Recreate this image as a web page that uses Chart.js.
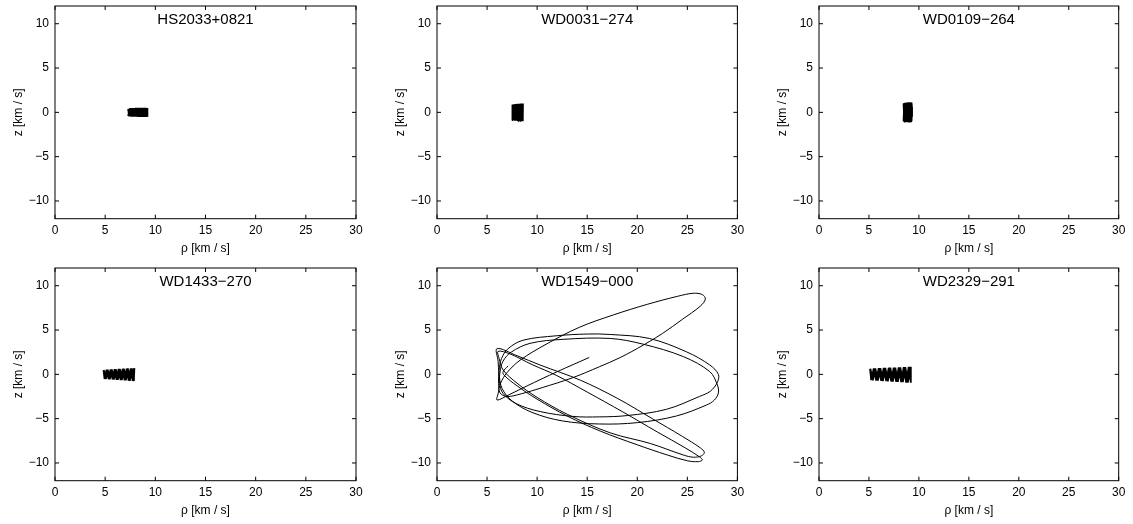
<!DOCTYPE html>
<html>
<head>
<meta charset="utf-8">
<script src="https://cdn.jsdelivr.net/npm/chart.js@4.4.0/dist/chart.umd.min.js"></script>
<style>
  body { margin: 0; background: #fff; }
  #page { position: relative; width: 1133px; height: 524px; overflow: hidden; background: #fff; }
  canvas { position: absolute; }
</style>
</head>
<body>
<div id="page"></div>
<script>
// tick values
const rhoTicks = [0, 5, 10, 15, 20, 25, 30];
const zTicks = [-10, -5, 0, 5, 10];

// panel titles
const stars = ['HS2033+0821', 'WD0031\u2212274', 'WD0109\u2212264', 'WD1433\u2212270', 'WD1549\u2212000', 'WD2329\u2212291'];

// orbits in the meridional plane, [rho, z] in km/s
const hs2033 = [
  [7.3,0.4],[7.4,-0.45],[7.55,0.47],[7.7,-0.48],[7.85,0.48],[8.0,-0.49],[8.15,0.49],[8.3,-0.5],[8.45,0.5],
  [8.6,-0.5],[8.75,0.5],[8.9,-0.5],[9.05,0.5],[9.2,-0.5],[9.2,0.5],
  [9.1,-0.5],[8.95,0.5],[8.8,-0.5],[8.65,0.5],[8.5,-0.5],[8.35,0.5],[8.2,-0.49],[8.05,0.49],[7.9,-0.48],
  [7.75,0.48],[7.6,-0.47],[7.45,0.45],[7.3,-0.4]
];
const wd0031 = [
  [7.55,0.9],[7.62,-0.9],[7.7,0.92],[7.78,-0.93],[7.86,0.94],[7.94,-0.95],[8.02,0.96],[8.1,-0.97],[8.18,0.98],
  [8.26,-0.98],[8.34,0.99],[8.42,-1.0],[8.5,1.0],[8.58,-1.0],[8.6,1.0],
  [8.54,-1.0],[8.46,1.0],[8.38,-0.99],[8.3,0.98],[8.22,-0.98],[8.14,0.97],[8.06,-0.96],[7.98,0.95],[7.9,-0.94],
  [7.82,0.93],[7.74,-0.92],[7.66,0.91],[7.58,-0.9],[7.52,0.85]
];
const wd0109 = [
  [8.45,1.0],[8.52,-1.05],[8.6,1.07],[8.68,-1.1],[8.76,1.1],[8.84,-1.12],[8.92,1.12],[9.0,-1.15],[9.08,1.15],
  [9.16,-1.15],[9.22,1.1],[9.28,-1.0],[9.32,0.6],[9.33,-0.5],
  [9.3,0.9],[9.24,-1.1],[9.16,1.15],[9.08,-1.15],[9.0,1.14],[8.92,-1.12],[8.84,1.1],[8.76,-1.1],[8.68,1.08],
  [8.6,-1.07],[8.52,1.05],[8.45,-1.0]
];
const wd1433 = [
  [4.85,0.5],[5.05,-0.52],[5.25,0.53],[5.45,-0.55],[5.65,0.55],[5.85,-0.58],[6.05,0.58],[6.25,-0.62],[6.45,0.61],
  [6.65,-0.65],[6.85,0.63],[7.05,-0.68],[7.25,0.66],[7.45,-0.72],[7.65,0.68],[7.85,-0.75],[7.9,0.7],
  [7.75,-0.74],[7.55,0.67],[7.35,-0.71],[7.15,0.65],[6.95,-0.67],[6.75,0.62],[6.55,-0.64],[6.35,0.6],
  [6.15,-0.61],[5.95,0.57],[5.75,-0.57],[5.55,0.55],[5.35,-0.54],[5.15,0.52],[4.95,-0.51],[4.85,0.45]
];
const wd1549 = [
  [15.2,1.9],[12.0,0.3],[9.0,-1.3],[7.2,-2.3],[6.0,-2.9],
  [6.1,-2.2],[6.35,-1.0],[7.0,0.2],[8.3,1.6],[10.9,3.4],[14.2,5.3],[17.6,6.7],[21.0,7.9],[24.0,8.8],
  [25.6,9.15],[26.5,9.0],[26.8,8.5],
  [26.3,7.7],[24.5,6.2],[22.5,4.6],[20.6,3.3],[18.3,1.9],[16.2,0.85],[13.5,-0.4],[10.5,-1.5],[8.4,-2.2],
  [7.0,-2.5],[6.3,-2.1],
  [6.15,-1.0],[6.2,0.5],[6.45,1.8],[7.1,2.9],[8.6,3.85],[11.9,4.35],[15.0,4.55],[17.3,4.5],[21.2,4.05],
  [24.9,2.55],[27.25,1.05],[28.1,0.0],[28.0,-0.9],[27.3,-1.9],[26.2,-2.5],[22.9,-3.95],[19.0,-4.65],[16.2,-4.8],
  [13.6,-4.75],[10.3,-4.2],[7.9,-3.3],[6.6,-2.15],[6.25,-1.0],
  [6.3,0.3],[6.6,1.5],[7.4,2.5],[9.3,3.5],[12.6,3.95],[17.3,4.05],[20.6,3.4],[24.6,2.0],[27.25,0.3],
  [28.0,-1.2],[28.1,-2.1],[27.7,-2.9],[26.9,-3.47],[23.9,-4.7],[20.0,-5.45],[16.2,-5.6],[12.5,-5.25],[9.5,-4.3],
  [7.5,-3.0],[6.5,-1.6],[6.2,0.0],[6.1,1.5],[6.0,2.9],
  [8.0,2.1],[10.3,1.05],[14.3,-0.65],[18.0,-2.7],[21.5,-5.0],[24.5,-7.0],[26.3,-8.3],[26.7,-8.8],
  [26.4,-9.2],[25.6,-9.35],[24.6,-9.1],[21.3,-7.8],[17.3,-6.6],[13.0,-4.5],[10.0,-2.6],[8.0,-1.0],
  [6.6,0.5],[6.2,1.8],[6.1,2.6],
  [7.3,2.3],[9.5,1.1],[11.9,-0.1],[15.0,-2.0],[18.5,-4.2],[22.0,-6.5],[24.8,-8.3],[26.2,-9.3],[26.5,-9.65],
  [26.1,-9.85],[25.0,-9.75],[23.0,-9.1],[20.0,-7.95],[16.3,-6.4],[13.0,-4.7],[10.0,-2.8],[8.0,-1.3],
  [6.7,-0.1],[6.6,0.3],[7.1,0.95]
];
const wd2329 = [
  [5.15,0.65],[5.4,-0.67],[5.65,0.68],[5.9,-0.71],[6.15,0.7],[6.4,-0.75],[6.65,0.73],[6.9,-0.78],[7.15,0.75],
  [7.4,-0.82],[7.65,0.77],[7.9,-0.85],[8.15,0.8],[8.4,-0.89],[8.65,0.82],[8.9,-0.93],[9.15,0.85],[9.2,-0.95],
  [9.03,0.84],[8.78,-0.92],[8.53,0.82],[8.28,-0.88],[8.03,0.79],[7.78,-0.85],[7.53,0.77],[7.28,-0.81],
  [7.03,0.75],[6.78,-0.77],[6.53,0.72],[6.28,-0.74],[6.03,0.7],[5.78,-0.7],[5.53,0.67],[5.28,-0.66],[5.1,0.6],
  [5.22,-0.66],[5.47,0.67],[5.72,-0.7],[5.97,0.69],[6.22,-0.73],[6.47,0.72],[6.72,-0.77],[6.97,0.74],
  [7.22,-0.8],[7.47,0.76],[7.72,-0.84],[7.97,0.79],[8.22,-0.88],[8.47,0.81],[8.72,-0.92],[8.97,0.84],[9.18,-0.9]
];
const orbits = [hs2033, wd0031, wd0109, wd1433, wd1549, wd2329];

// plot boxes on the page: left, top, width, height
const boxes = [
  [55, 6, 301, 212.7], [437.3, 6, 300.4, 212.7], [819.3, 6, 299.7, 212.7],
  [55, 268, 301, 212.7], [437.3, 268, 300.4, 212.7], [819.3, 268, 299.7, 212.7]
];
const lineWidths = [2, 1.5, 1.5, 2, 1, 1.6];

const fontFamily = '"Liberation Sans", Arial, Helvetica, sans-serif';
const minus = v => String(v).replace('-', '\u2212');

// frame, inward ticks on all four sides and the title inside the plot
const framePlugin = {
  id: 'panelTitle',
  afterDraw(chart, args, opts) {
    const { ctx, chartArea: a, scales: { x, y } } = chart;
    ctx.save();
    ctx.strokeStyle = '#000';
    ctx.lineWidth = 1;
    ctx.strokeRect(a.left, a.top, a.right - a.left, a.bottom - a.top);
    ctx.beginPath();
    rhoTicks.forEach(v => {
      const px = x.getPixelForValue(v);
      ctx.moveTo(px, a.bottom); ctx.lineTo(px, a.bottom - 4);
      ctx.moveTo(px, a.top); ctx.lineTo(px, a.top + 4);
    });
    zTicks.forEach(v => {
      const py = y.getPixelForValue(v);
      ctx.moveTo(a.left, py); ctx.lineTo(a.left + 4, py);
      ctx.moveTo(a.right, py); ctx.lineTo(a.right - 4, py);
    });
    ctx.stroke();
    ctx.fillStyle = '#000';
    ctx.font = '15px ' + fontFamily;
    ctx.textAlign = 'center';
    ctx.textBaseline = 'alphabetic';
    ctx.fillText(opts.text, (a.left + a.right) / 2, a.top + 17.5);
    ctx.restore();
  }
};

const page = document.getElementById('page');

orbits.forEach((orbit, i) => {
  const [left, top, w, h] = boxes[i];
  const canvas = document.createElement('canvas');
  const cw = Math.round(55 + w + 12);
  const ch = Math.round(6 + h + 44);
  canvas.width = cw;
  canvas.height = ch;
  canvas.style.left = (left - 55) + 'px';
  canvas.style.top = (top - 6) + 'px';
  page.appendChild(canvas);

  new Chart(canvas, {
    type: 'scatter',
    data: {
      datasets: [{
        data: orbit.map(p => ({ x: p[0], y: p[1] })),
        showLine: true,
        borderColor: '#000',
        borderWidth: lineWidths[i],
        borderJoinStyle: 'bevel',
        borderCapStyle: 'butt',
        pointRadius: 0,
        tension: i === 4 ? 0.35 : 0,
        fill: false
      }]
    },
    options: {
      responsive: false,
      animation: false,
      events: [],
      layout: { padding: { top: 6, right: cw - 55 - w, left: 0, bottom: 0 } },
      plugins: {
        legend: { display: false },
        tooltip: { enabled: false },
        panelTitle: { text: stars[i] }
      },
      scales: {
        x: {
          type: 'linear', min: 0, max: 30,
          afterBuildTicks: s => { s.ticks = rhoTicks.map(v => ({ value: v })); },
          afterFit: s => { s.height = ch - 6 - h; s.paddingLeft = 0; s.paddingRight = 0; },
          grid: { display: false, drawTicks: false },
          border: { display: false },
          ticks: { color: '#000', font: { family: fontFamily, size: 12 }, padding: 5, maxRotation: 0, autoSkip: false },
          title: { display: true, text: '\u03c1 [km / s]', color: '#000', font: { family: fontFamily, size: 12 }, padding: { top: 0, bottom: 7.5 } }
        },
        y: {
          type: 'linear', min: -12, max: 12,
          afterBuildTicks: s => { s.ticks = zTicks.map(v => ({ value: v })); },
          afterFit: s => { s.width = 55; s.paddingTop = 0; s.paddingBottom = 0; },
          grid: { display: false, drawTicks: false },
          border: { display: false },
          ticks: { color: '#000', font: { family: fontFamily, size: 12 }, padding: 6, autoSkip: false, callback: v => minus(v) },
          title: { display: true, text: 'z [km / s]', color: '#000', font: { family: fontFamily, size: 12 }, padding: { top: 11, bottom: 0 } }
        }
      }
    },
    plugins: [framePlugin]
  });
});
</script>
</body>
</html>
